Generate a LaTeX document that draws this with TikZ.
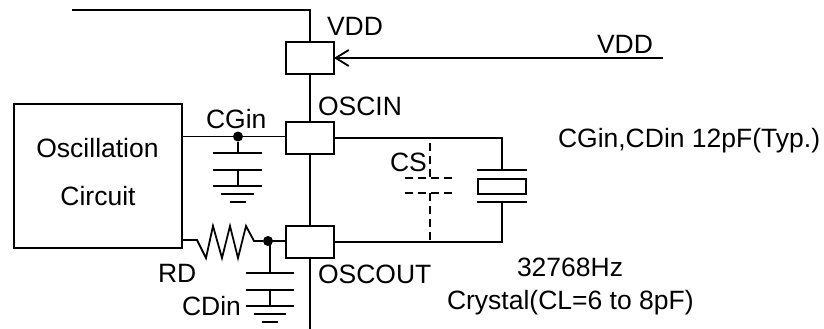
\documentclass[tikz,border=0pt]{standalone}
\usepackage{fontspec}
\setmainfont{Liberation Sans}
\usetikzlibrary{arrows.meta}
\tikzset{
  wire/.style={line width=1.8pt,line cap=butt,line join=miter},
  pin/.style={draw,line width=1.8pt,minimum width=48pt,minimum height=32pt,inner sep=0pt,outer sep=0pt},
  lbl/.style={anchor=base west,inner sep=0pt,outer sep=0pt,font=\fontsize{26.5}{30}\selectfont},
  ctr/.style={anchor=base,inner sep=0pt,outer sep=0pt,font=\fontsize{26.5}{30}\selectfont},
  junction/.style={circle,fill=black,minimum size=10pt,inner sep=0pt,outer sep=0pt},
  dashline/.style={line width=1.8pt,dash pattern=on 8pt off 5pt},
}
\begin{document}
\begin{tikzpicture}[x=1pt,y=-1pt]
\useasboundingbox (0,0) rectangle (824,329);
% pins and blocks
\node[pin] (vddbox) at (310,58) {};
\node[pin] (inbox) at (310,138) {};
\node[pin] (outbox) at (310,242) {};
\node[draw,line width=1.8pt,minimum width=168pt,minimum height=144pt,inner sep=0pt,outer sep=0pt] (osc) at (98,176) {};
\node[draw,line width=1.8pt,minimum width=48pt,minimum height=15pt,inner sep=0pt,outer sep=0pt] (xtal) at (502,186.5) {};
\node[junction] (dotin) at (238,136.5) {};
\node[junction] (dotout) at (268,241) {};
% free ends
\coordinate (topl) at (72,10);
\coordinate (topc) at (310,10);
\coordinate (vddr) at (663,58);
\coordinate (bot) at (310,329);
% power rail
\draw[wire] (topl) -- (topc) -- (vddbox.north);
\draw[wire] (vddbox.south) -- (inbox.north);
\draw[wire] (inbox.south) -- (outbox.north);
\draw[wire] (outbox.south) -- (bot);
\draw[wire,-{Straight Barb[length=13pt,width=16pt,line width=1.8pt]}] (vddr) -- (vddbox.east);
% CGin
\draw[wire] (182,136.5) -- (dotin) -- (286,136.5);
\draw[wire] (dotin) -- (238,153);
\draw[wire] (213,153) -- (262,153);
\draw[wire] (213,170) -- (262,170);
\draw[wire] (238,170) -- (238,186);
\draw[wire] (213,186) -- (262,186);
\draw[wire] (221,194) -- (254,194);
\draw[wire] (230,202) -- (246,202);
% resistor
\draw[wire] (182,240) -- (197,240) -- (206,258) -- (213,226) -- (222,258) -- (230,226) -- (238,258) -- (246,226) -- (254,241) -- (dotout) -- (286,241);
% CDin
\draw[wire] (dotout) -- (270,241) -- (270,273);
\draw[wire] (246,273) -- (294,273);
\draw[wire] (246,290) -- (294,290);
\draw[wire] (270,290) -- (270,306);
\draw[wire] (246,306) -- (294,306);
\draw[wire] (254,314) -- (286,314);
\draw[wire] (262,322) -- (278,322);
% crystal
\draw[wire] (inbox.east) -- (502,138) -- (502,170);
\draw[wire] (477,170) -- (527,170);
\draw[wire] (477,202) -- (527,202);
\draw[wire] (502,202) -- (502,242) -- (outbox.east);
% CS
\draw[dashline,dash phase=8pt] (430,138) -- (430,178);
\draw[dashline] (405,178) -- (455,178);
\draw[dashline] (405,193) -- (455,193);
\draw[dashline] (430,193) -- (430,242);
% labels
\node[lbl] (tvdd) at (327,36) {VDD};
\node[lbl] (tvdd2) at (597,53) {VDD};
\node[lbl] (toscin) at (318,115) {OSCIN};
\node[lbl] (tcgin) at (206,128) {CGin};
\node[ctr] (tosc) at (97.5,157) {Oscillation};
\node[ctr] (tcir) at (98,205) {Circuit};
\node[lbl] (trd) at (158,282) {RD};
\node[lbl] (tcdin) at (182,315) {CDin};
\node[lbl] (toscout) at (318,283) {OSCOUT};
\node[lbl] (tcs) at (390,171) {CS};
\node[lbl] (tnote) at (558,147) {CGin,CDin 12pF(Typ.)};
\node[lbl] (tfreq) at (517,276) {32768Hz};
\node[lbl] (tcry) at (447,309) {Crystal(CL=6 to 8pF)};
\end{tikzpicture}
\end{document}
